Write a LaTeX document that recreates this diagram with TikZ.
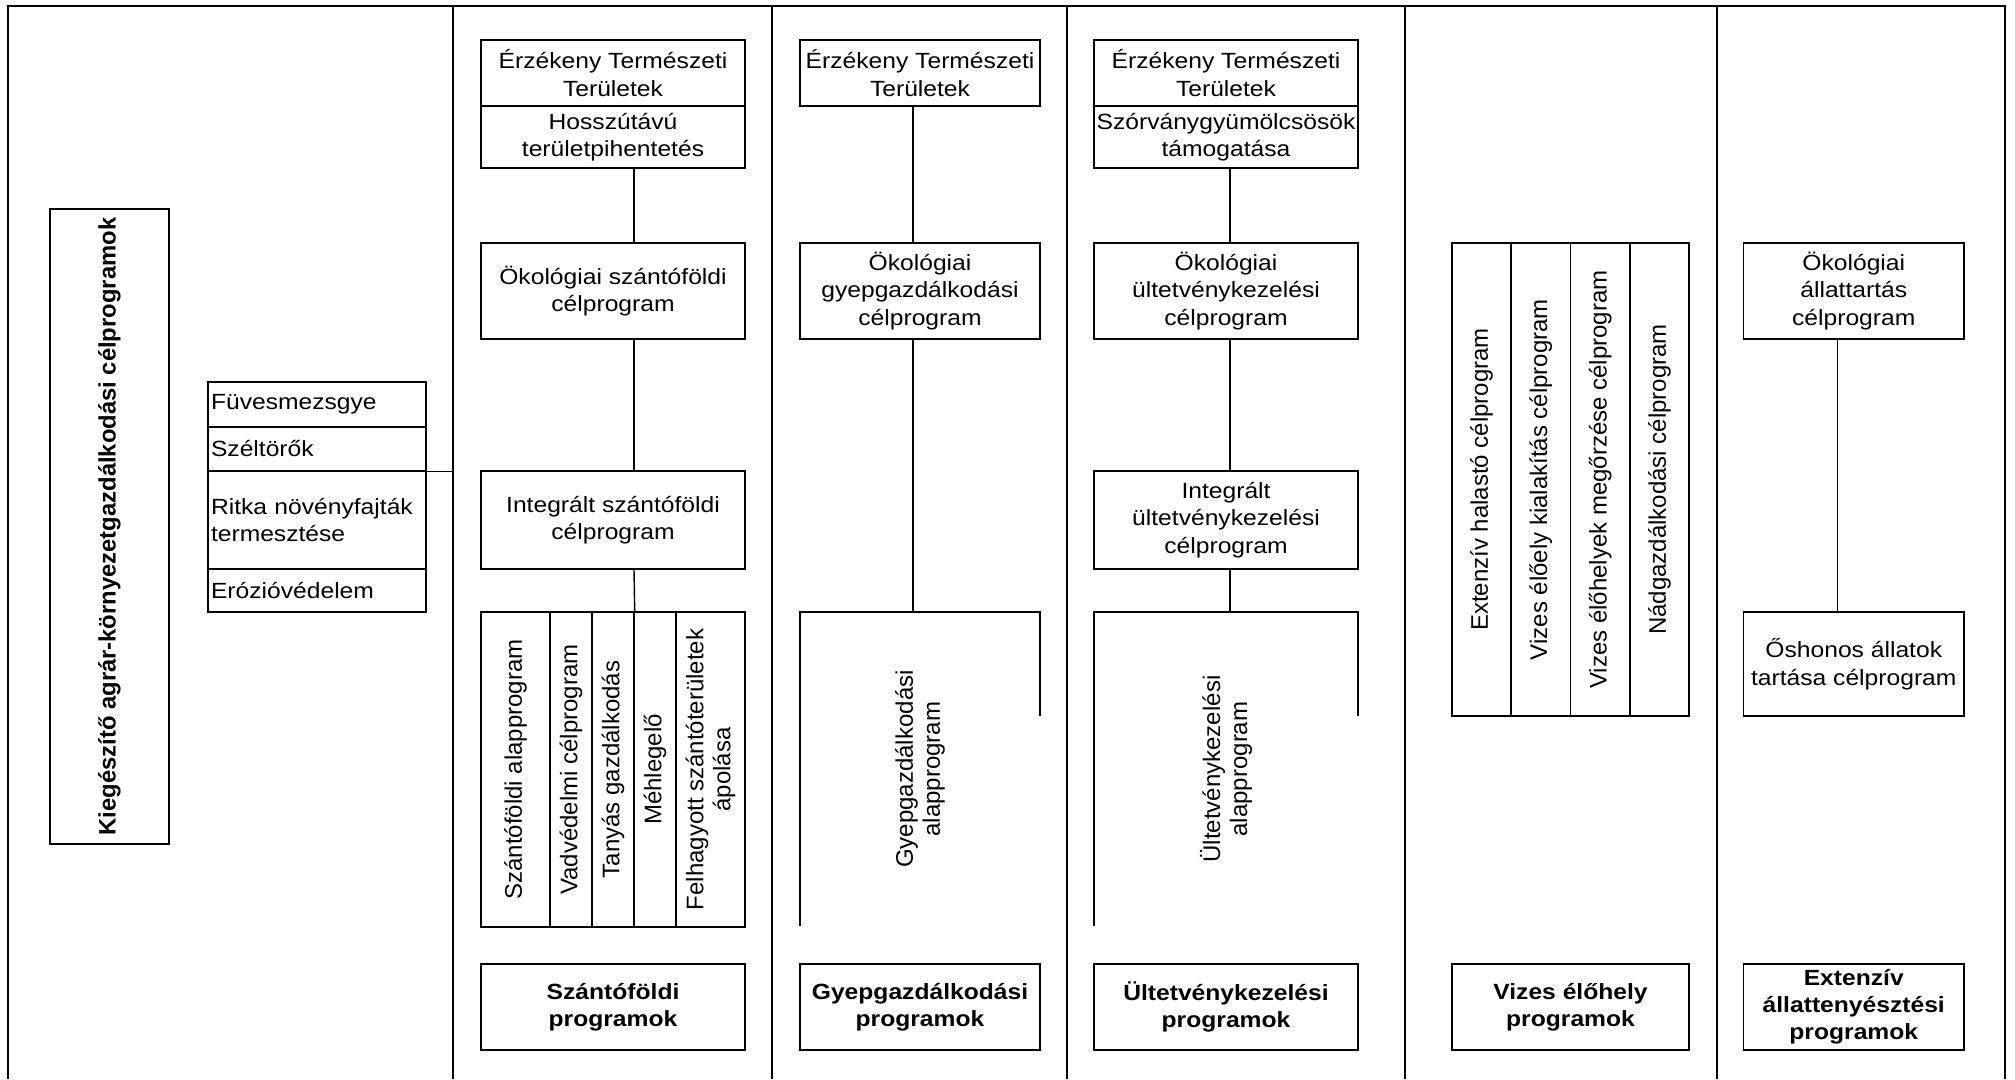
\documentclass[tikz,border=0pt]{standalone}
\usepackage{fontspec}
\setmainfont{Liberation Sans}
\newfontfamily\hfont{Liberation Sans}[FakeStretch=1.12]
\newfontfamily\rfont{Liberation Sans}
\begin{document}
\begin{tikzpicture}[x=1pt,y=-1pt,
  lin/.style={line width=1.4pt, black},
  hbox/.style={draw, line width=1.4pt, inner sep=0pt, align=center,
    font=\hfont\fontsize{22}{27.5}\selectfont},
  bbox/.style={hbox, font=\hfont\bfseries\fontsize{22}{27}\selectfont},
  lbox/.style={draw, line width=1.4pt, inner xsep=3pt, inner ysep=0pt, align=left,
    text width=212pt, font=\hfont\fontsize{22}{27.5}\selectfont},
  rbox/.style={draw, line width=1.4pt, inner sep=0pt, rotate=90, align=center,
    font=\rfont\fontsize{24}{27}\selectfont},
  rtext/.style={inner sep=0pt, rotate=90, align=center,
    font=\rfont\fontsize{24}{27}\selectfont},
]
\useasboundingbox (0,0) rectangle (2015,1079);

% frame and column dividers
\coordinate (fbl) at (8,1079);
\coordinate (ftl) at (8,6);
\coordinate (ftr) at (2005,6);
\coordinate (fbr) at (2005,1079);
\draw[lin] (fbl) -- (ftl) -- (ftr) -- (fbr);
\coordinate (d1t) at (453,6);   \coordinate (d1b) at (453,1079);
\coordinate (d2t) at (772,6);   \coordinate (d2b) at (772,1079);
\coordinate (d3t) at (1067,6);  \coordinate (d3b) at (1067,1079);
\coordinate (d4t) at (1405,6);  \coordinate (d4b) at (1405,1079);
\coordinate (d5t) at (1717,6);  \coordinate (d5b) at (1717,1079);
\foreach \d in {d1,d2,d3,d4,d5} {\draw[lin] (\d t) -- (\d b);}

% column 1
\node[rbox, font=\rfont\bfseries\fontsize{23.8}{27}\selectfont,
  minimum width=635pt, minimum height=119pt] (kieg) at (109.5,526.5)
  {Kiegészítő agrár-környezetgazdálkodási célprogramok};
\node[lbox, minimum height=45pt] (fuv) at (317,404.5) {Füvesmezsgye};
\node[lbox, minimum height=44pt] (szel) at (317,449) {Széltörők};
\node[lbox, minimum height=98pt] (ritka) at (317,520) {Ritka növényfajták\\termesztése};
\node[lbox, minimum height=43pt] (eroz) at (317,590.5) {Erózióvédelem};
\draw[lin] (szel.south east) -- (szel.south east -| d1t);

% column 2
\node[hbox, minimum width=264pt, minimum height=66pt] (ett2) at (613,73) {Érzékeny Természeti\\Területek};
\node[hbox, minimum width=264pt, minimum height=62pt] (hossz2) at (613,137) {Hosszútávú\\területpihentetés};
\node[hbox, minimum width=264pt, minimum height=96pt] (oko2) at (613,291) {Ökológiai szántóföldi\\célprogram};
\node[hbox, minimum width=264pt, minimum height=98pt] (int2) at (613,520) {Integrált szántóföldi\\célprogram};
\node[rbox, minimum width=315pt, minimum height=69pt] (c2a) at (515.5,769.5) {Szántóföldi alapprogram};
\node[rbox, minimum width=315pt, minimum height=42pt] (c2b) at (571,769.5) {Vadvédelmi célprogram};
\node[rbox, minimum width=315pt, minimum height=42pt] (c2c) at (613,769.5) {Tanyás gazdálkodás};
\node[rbox, minimum width=315pt, minimum height=42pt] (c2d) at (655,769.5) {Méhlegelő};
\node[rbox, minimum width=315pt, minimum height=69pt] (c2e) at (710.5,769.5) {Felhagyott szántóterületek\\ápolása};
\node[bbox, minimum width=264pt, minimum height=86pt] (prog2) at (613,1007) {Szántóföldi\\programok};
\draw[lin] ([xshift=21pt]hossz2.south) -- ([xshift=21pt]oko2.north);
\draw[lin] ([xshift=21pt]oko2.south) -- ([xshift=21pt]int2.north);
\draw[lin] ([xshift=21pt]int2.south) -- (c2c.south east);

% column 3
\node[hbox, minimum width=240pt, minimum height=66pt] (ett3) at (920,73) {Érzékeny Természeti\\Területek};
\node[hbox, minimum width=240pt, minimum height=96pt] (oko3) at (920,291) {Ökológiai\\gyepgazdálkodási\\célprogram};
\coordinate (g3bl) at (800,926);
\coordinate (g3tl) at (800,612);
\coordinate (g3tr) at (1040,612);
\coordinate (g3br) at (1040,716);
\draw[lin] (g3bl) -- (g3tl) -- (g3tr) -- (g3br);
\node[rtext] (alap3) at (920,769) {Gyepgazdálkodási\\alapprogram};
\node[bbox, minimum width=240pt, minimum height=86pt] (prog3) at (920,1007) {Gyepgazdálkodási\\programok};
\draw[lin] ([xshift=-7pt]ett3.south) -- ([xshift=-7pt]oko3.north);
\draw[lin] ([xshift=-7pt]oko3.south) -- ([xshift=-7pt]oko3.south |- g3tl);

% column 4
\node[hbox, minimum width=264pt, minimum height=66pt] (ett4) at (1226,73) {Érzékeny Természeti\\Területek};
\node[hbox, minimum width=264pt, minimum height=62pt] (szorv4) at (1226,137) {Szórványgyümölcsösök\\támogatása};
\node[hbox, minimum width=264pt, minimum height=96pt] (oko4) at (1226,291) {Ökológiai\\ültetvénykezelési\\célprogram};
\node[hbox, minimum width=264pt, minimum height=98pt] (int4) at (1226,520) {Integrált\\ültetvénykezelési\\célprogram};
\coordinate (g4bl) at (1094,926);
\coordinate (g4tl) at (1094,612);
\coordinate (g4tr) at (1358,612);
\coordinate (g4br) at (1358,716);
\draw[lin] (g4bl) -- (g4tl) -- (g4tr) -- (g4br);
\node[rtext] (alap4) at (1226,769) {Ültetvénykezelési\\alapprogram};
\node[bbox, minimum width=264pt, minimum height=86pt] (prog4) at (1226,1007) {Ültetvénykezelési\\programok};
\draw[lin] ([xshift=4pt]szorv4.south) -- ([xshift=4pt]oko4.north);
\draw[lin] ([xshift=4pt]oko4.south) -- ([xshift=4pt]int4.north);
\draw[lin] ([xshift=4pt]int4.south) -- ([xshift=4pt]int4.south |- g4tl);

% column 5
\node[rbox, minimum width=473pt, minimum height=59pt] (v1) at (1481.5,479.5) {Extenzív halastó célprogram};
\node[rbox, minimum width=473pt, minimum height=59.5pt] (v2) at (1540.75,479.5) {Vizes élőely kialakítás célprogram};
\node[rbox, minimum width=473pt, minimum height=59.5pt] (v3) at (1600.25,479.5) {Vizes élőhelyek megőrzése célprogram};
\node[rbox, minimum width=473pt, minimum height=59pt] (v4) at (1659.5,479.5) {Nádgazdálkodási célprogram};
\node[bbox, minimum width=237pt, minimum height=86pt] (prog5) at (1570.5,1007) {Vizes élőhely\\programok};

% column 6
\node[hbox, minimum width=220.5pt, minimum height=96pt] (oko6) at (1853.75,291) {Ökológiai\\állattartás\\célprogram};
\node[hbox, minimum width=220.5pt, minimum height=104pt] (osh6) at (1853.75,664) {Őshonos állatok\\tartása célprogram};
\node[bbox, minimum width=220.5pt, minimum height=86pt] (prog6) at (1853.75,1007) {Extenzív\\állattenyésztési\\programok};
\draw[lin] ([xshift=-16pt]oko6.south) -- ([xshift=-16pt]osh6.north);
\end{tikzpicture}
\end{document}
